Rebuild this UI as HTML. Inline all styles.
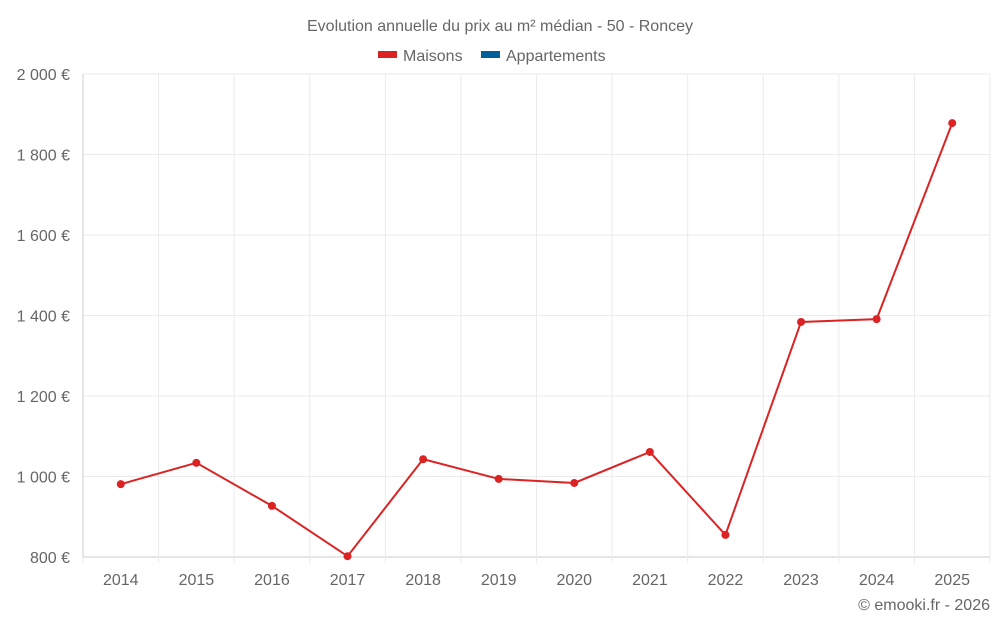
<!DOCTYPE html>
<html><head><meta charset="utf-8"><style>
body{margin:0;background:#fff;width:1000px;height:625px;overflow:hidden;font-family:"Liberation Sans",sans-serif}
svg text{font-family:"Liberation Sans",sans-serif;fill:#666}
</style></head><body>
<svg id="chart" width="1000" height="625">
<text x="500" y="31" text-anchor="middle" font-size="16">Evolution annuelle du prix au m² médian - 50 - Roncey</text>
<g>
<g><rect x="378" y="51" width="19" height="7" fill="#dc2323"/><text x="403" y="61" font-size="16">Maisons</text></g>
<g><rect x="481" y="51" width="19" height="7" fill="#005f96"/><text x="506" y="61" font-size="16">Appartements</text></g>
</g>
<g id="grid"></g><g id="axes"></g><g id="series"></g>
<text x="990" y="610" text-anchor="end" font-size="16">© emooki.fr - 2026</text>
</svg>
<script>
const years=["2014","2015","2016","2017","2018","2019","2020","2021","2022","2023","2024","2025"];
const maisons=[981,1034,927,802,1043,994,984,1061,855,1384,1391,1878];
const yTicks=[800,1000,1200,1400,1600,1800,2000];
const NS="http://www.w3.org/2000/svg";
const L=83,R=990,T=74,B=557,yMin=800,yMax=2000;
const x=i=>L+(R-L)*(i+0.5)/years.length;
const y=v=>B-(v-yMin)/(yMax-yMin)*(B-T);
function mk(t,a,p){const e=document.createElementNS(NS,t);for(const k in a)e.setAttribute(k,a[k]);p.appendChild(e);return e;}
const g=document.getElementById('grid'),ax=document.getElementById('axes'),s=document.getElementById('series');
yTicks.forEach(v=>{
 const l=mk('line',{x1:L,x2:R,y1:y(v),y2:y(v),stroke:v===yMin?'#ccc':'#ebebeb'},g);
 
 
 const t=mk('text',{x:70,y:y(v)+6,'text-anchor':'end','font-size':16},ax);
 t.textContent=v.toLocaleString('fr-FR').replace(/\s/g,' ')+' €';
 
 
});
for(let i=0;i<=years.length;i++){
 const xx=L+(R-L)*i/years.length;
 const l=mk('line',{x1:xx,x2:xx,y1:T,y2:B+6,stroke:'#ebebeb'},g);
 
 
}
mk('line',{x1:L,x2:L,y1:T,y2:B,stroke:'#ccc'},g);
years.forEach((yr,i)=>{
 const t=mk('text',{x:x(i),y:585,'text-anchor':'middle','font-size':16},ax);
 t.textContent=yr;
 
 
});
const pl=mk('polyline',{points:maisons.map((v,i)=>x(i)+','+y(v)).join(' '),fill:'none',stroke:'#dc2323','stroke-width':2},s);


maisons.forEach((v,i)=>{
 const c=mk('circle',{cx:x(i),cy:y(v),r:4,fill:'#dc2323'},s);
 
 
});
</script>
</body></html>
